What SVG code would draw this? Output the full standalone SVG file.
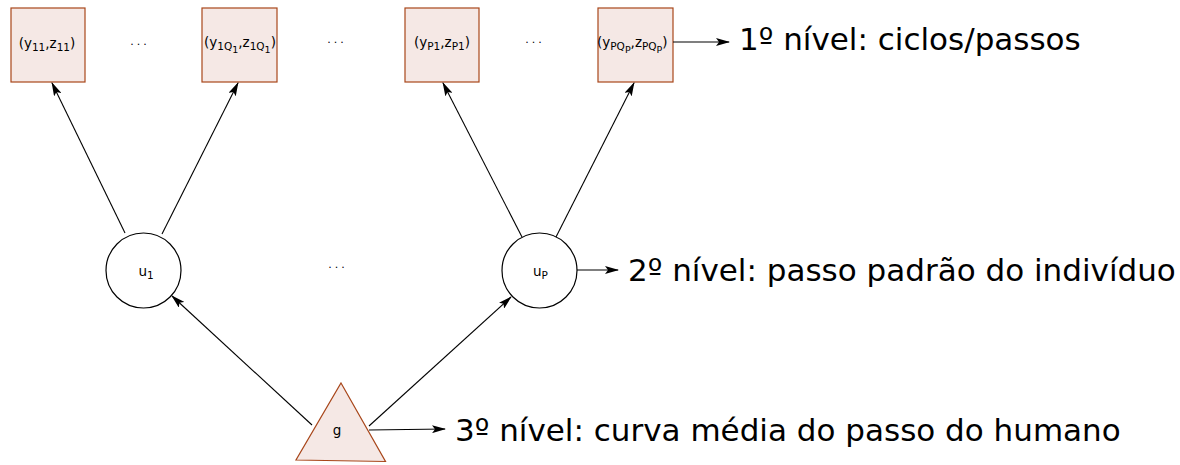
<svg xmlns="http://www.w3.org/2000/svg" width="1180" height="465" viewBox="0 0 1180 465">
  <style>
    .box { fill: #f5e8e5; stroke: #a8461a; stroke-width: 1.2; }
    .circ { fill: #ffffff; stroke: #000000; stroke-width: 1.2; }
    .lbl { font-family: "DejaVu Sans", sans-serif; font-size: 13.5px; fill: #000000; }
    .sub { font-size: 10.5px; }
    .sub2 { font-size: 9.5px; }
    .dots { font-family: "DejaVu Sans", sans-serif; font-size: 11px; fill: #000000; letter-spacing: 3px; }
    .lvl { font-family: "DejaVu Sans", sans-serif; font-size: 31px; fill: #000000; }
    .edge { stroke: #000000; stroke-width: 1.1; fill: none; marker-end: url(#arr); }
  </style>
  <defs>
    <marker id="arr" viewBox="0 0 14 8" refX="13" refY="4" markerWidth="14" markerHeight="8" markerUnits="userSpaceOnUse" orient="auto">
      <path d="M0,0 L14,4 L0,8 L3,4 z" fill="#000000"/>
    </marker>
  </defs>

  <!-- level 1: observed cycles -->
  <g id="n-y11">
    <rect class="box" x="11" y="8" width="74" height="74"/>
    <text class="lbl" x="47" y="48" text-anchor="middle">(y<tspan class="sub" dy="3">11</tspan><tspan dy="-3">,z</tspan><tspan class="sub" dy="3">11</tspan><tspan dy="-3">)</tspan></text>
  </g>
  <g id="n-y1Q1">
    <rect class="box" x="202" y="8" width="75" height="74"/>
    <text class="lbl" x="204" y="47">(y<tspan class="sub" dy="3">1Q</tspan><tspan class="sub2" dy="3">1</tspan><tspan dy="-6">,z</tspan><tspan class="sub" dy="3">1Q</tspan><tspan class="sub2" dy="3">1</tspan><tspan dy="-6">)</tspan></text>
  </g>
  <g id="n-yP1">
    <rect class="box" x="405" y="8" width="74" height="74"/>
    <text class="lbl" x="442" y="47" text-anchor="middle">(y<tspan class="sub" dy="3">P1</tspan><tspan dy="-3">,z</tspan><tspan class="sub" dy="3">P1</tspan><tspan dy="-3">)</tspan></text>
  </g>
  <g id="n-yPQP">
    <rect class="box" x="598" y="8" width="75" height="74"/>
    <text class="lbl" x="597" y="47">(y<tspan class="sub" dy="3">PQ</tspan><tspan class="sub2" dy="3">P</tspan><tspan dy="-6">,z</tspan><tspan class="sub" dy="3">PQ</tspan><tspan class="sub2" dy="3">P</tspan><tspan dy="-6">)</tspan></text>
  </g>

  <!-- ellipsis marks -->
  <g id="ellipses">
    <text class="dots" x="140" y="45" text-anchor="middle">...</text>
    <text class="dots" x="337" y="43" text-anchor="middle">...</text>
    <text class="dots" x="535" y="43" text-anchor="middle">...</text>
    <text class="dots" x="338" y="268" text-anchor="middle">...</text>
  </g>

  <!-- level 2: individual step curves -->
  <g id="n-u1">
    <circle class="circ" cx="143.5" cy="270.5" r="37.5"/>
    <text class="lbl" x="138.5" y="276">u<tspan class="sub" dy="3">1</tspan></text>
  </g>
  <g id="n-uP">
    <circle class="circ" cx="539.5" cy="270.5" r="37.5"/>
    <text class="lbl" x="533" y="276">u<tspan class="sub" dy="3">P</tspan></text>
  </g>

  <!-- level 3: mean curve -->
  <g id="n-g">
    <path class="box" d="M341,383 L385.5,461.5 L296,460 Z"/>
    <text class="lbl" x="337" y="435" text-anchor="middle">g</text>
  </g>

  <!-- connectors -->
  <g id="edges">
    <line class="edge" x1="125" y1="233" x2="52" y2="83"/>
    <line class="edge" x1="162" y1="234" x2="238" y2="83"/>
    <line class="edge" x1="522" y1="237" x2="443" y2="83"/>
    <line class="edge" x1="556" y1="237" x2="634" y2="83"/>
    <line class="edge" x1="312" y1="425" x2="172" y2="296"/>
    <line class="edge" x1="369" y1="426" x2="511" y2="297"/>
    <line class="edge" x1="673" y1="42" x2="729" y2="42"/>
    <line class="edge" x1="577" y1="270" x2="618" y2="270"/>
    <line class="edge" x1="369" y1="430" x2="445" y2="429"/>
  </g>

  <!-- level captions -->
  <g id="captions">
    <text class="lvl" x="739" y="50">1º nível: ciclos/passos</text>
    <text class="lvl" x="628" y="281">2º nível: passo padrão do indivíduo</text>
    <text class="lvl" x="455" y="441">3º nível: curva média do passo do humano</text>
  </g>
</svg>
